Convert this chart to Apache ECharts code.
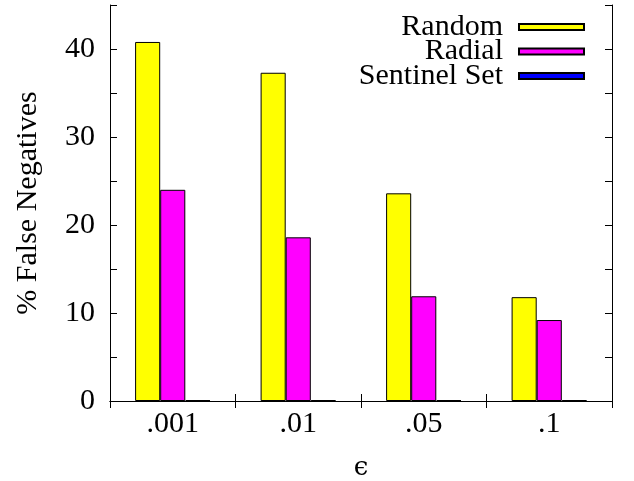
<!DOCTYPE html>
<html>
<head>
<meta charset="utf-8">
<script src="https://cdn.jsdelivr.net/npm/echarts@6/dist/echarts.min.js"></script>
<style>html,body{margin:0;padding:0;background:#fff;}#c{width:634px;height:481px;}</style>
</head>
<body>
<div id="c"></div>
<script>
var categories = ['.001', '.01', '.05', '.1'];
var randomVals = [40.8, 37.3, 23.6, 11.8];
var radialVals = [24.0, 18.6, 11.9, 9.2];
var sentinelVals = [0.1, 0.1, 0.1, 0.1];
var seriesNames = ['Random', 'Radial', 'Sentinel Set'];
var yTickLabels = [0, 10, 20, 30, 40];

var FONT = 'Liberation Serif';
var FS = 30;
var chart = echarts.init(document.getElementById('c'), null, {renderer: 'canvas'});

function legendAt(name, top) {
  return {
    data: [name], right: 49, top: top, orient: 'vertical', align: 'right',
    padding: 0, itemWidth: 65, itemHeight: 6, icon: 'rect',
    selectedMode: false,
    textStyle: {fontFamily: FONT, fontSize: FS, color: '#000', padding: [0, 11, 0, 0]}
  };
}

var tickStyle = {show: true, inside: true, length: 7, lineStyle: {color: '#000', width: 1}};

chart.setOption({
  animation: false,
  backgroundColor: '#fff',
  textStyle: {fontFamily: FONT},
  grid: {left: 110, right: 22, top: 5, bottom: 80, containLabel: false, outerBoundsMode: 'none'},
  legend: [legendAt(seriesNames[0], 12), legendAt(seriesNames[1], 36.5), legendAt(seriesNames[2], 61)],
  xAxis: [{
    type: 'category', data: categories, position: 'bottom',
    name: 'ϵ', nameLocation: 'middle', nameGap: 54,
    nameTextStyle: {fontFamily: 'DejaVu Serif', fontSize: 26, color: '#000'},
    axisLine: {lineStyle: {color: '#000', width: 1}},
    axisTick: tickStyle,
    axisLabel: {fontFamily: FONT, fontSize: FS, color: '#000', margin: 8},
    splitLine: {show: false}
  }, {
    type: 'category', data: categories, position: 'top',
    axisLine: {lineStyle: {color: '#000', width: 1}},
    axisTick: tickStyle, axisLabel: {show: false}, splitLine: {show: false}
  }],
  yAxis: [{
    type: 'value', min: 0, max: 45, interval: 5, position: 'left',
    name: '% False Negatives', nameLocation: 'middle', nameGap: 67,
    nameTextStyle: {fontFamily: FONT, fontSize: FS, color: '#000'},
    axisLine: {show: true, lineStyle: {color: '#000', width: 1}},
    axisTick: tickStyle,
    axisLabel: {fontFamily: FONT, fontSize: FS, color: '#000', margin: 15,
      formatter: function (v) { return yTickLabels.indexOf(v) >= 0 ? String(v) : ''; }},
    splitLine: {show: false}
  }, {
    type: 'value', min: 0, max: 45, interval: 5, position: 'right',
    axisLine: {show: true, lineStyle: {color: '#000', width: 1}},
    axisTick: tickStyle, axisLabel: {show: false}, splitLine: {show: false}
  }],
  series: [{
    name: seriesNames[0], type: 'bar', data: randomVals, barGap: '0%', barCategoryGap: '40%',
    itemStyle: {color: '#ffff00', borderColor: '#000', borderWidth: 1}
  }, {
    name: seriesNames[1], type: 'bar', data: radialVals, barGap: '0%', barCategoryGap: '40%',
    itemStyle: {color: '#ff00ff', borderColor: '#000', borderWidth: 1}
  }, {
    name: seriesNames[2], type: 'bar', data: sentinelVals, barGap: '0%', barCategoryGap: '40%',
    itemStyle: {color: '#0000ff', borderColor: '#000', borderWidth: 1}
  }]
});
</script>
</body>
</html>
